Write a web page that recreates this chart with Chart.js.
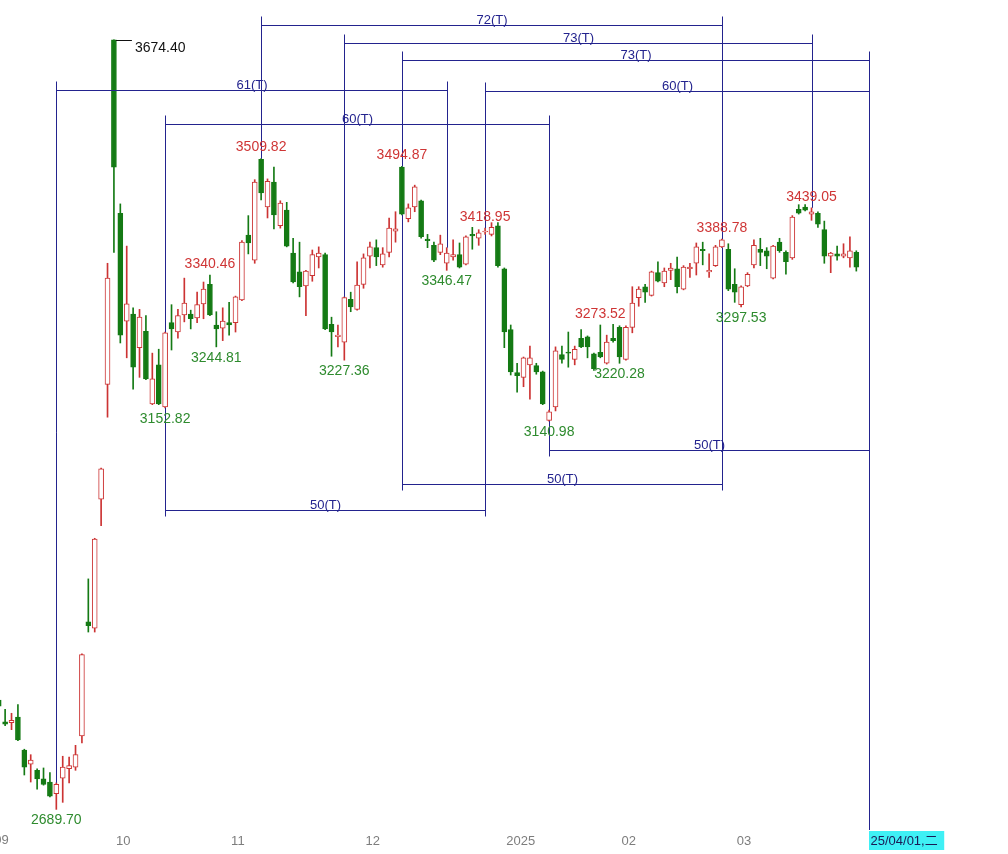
<!DOCTYPE html>
<html>
<head>
<meta charset="utf-8">
<script src="https://cdn.jsdelivr.net/npm/chart.js@4"></script>
<style>
  html, body { margin: 0; padding: 0; background: #fff; }
  #wrap { width: 1008px; height: 854px; position: relative; }
</style>
</head>
<body>
<div id="wrap"><canvas id="kline"></canvas></div>
<script>
// daily candles, one per trading day from 2024-09-03 to 2025-03-28 (index 0..134)
const opens = [2830, 2802, 2801, 2808, 2766, 2748, 2740, 2729, 2725, 2710,
  2730, 2742, 2744, 2784, 2930, 2922, 3087, 3234, 3675, 3453,
  3315, 3324, 3281, 3302, 3209, 3259, 3205, 3313, 3301, 3323,
  3324, 3319, 3337, 3362, 3310, 3306, 3313, 3313, 3342, 3425,
  3393, 3522, 3461, 3493, 3437, 3457, 3402, 3378, 3360, 3373,
  3397, 3400, 3311, 3295, 3288, 3343, 3330, 3362, 3398, 3409,
  3387, 3403, 3430, 3512, 3446, 3461, 3469, 3420, 3412, 3403,
  3389, 3397, 3400, 3388, 3426, 3421, 3429, 3426, 3437, 3382,
  3304, 3249, 3243, 3259, 3258, 3250, 3188, 3205, 3272, 3275,
  3266, 3293, 3295, 3273, 3275, 3261, 3293, 3307, 3266, 3307,
  3345, 3359, 3348, 3377, 3364, 3380, 3382, 3356, 3382, 3389,
  3407, 3378, 3386, 3410, 3407, 3362, 3336, 3360, 3387, 3407,
  3405, 3370, 3416, 3403, 3396, 3458, 3461, 3452, 3453, 3432,
  3398, 3401, 3398, 3396, 3403];
const highs = [2834, 2818, 2813, 2824, 2767, 2760, 2742, 2743, 2737, 2724,
  2758, 2757, 2772, 2889, 2985, 3037, 3127, 3389, 3675, 3465,
  3411, 3332, 3330, 3322, 3274, 3279, 3301, 3336, 3330, 3370,
  3329, 3352, 3365, 3374, 3327, 3332, 3339, 3347, 3418, 3450,
  3496, 3523, 3497, 3512, 3469, 3467, 3421, 3416, 3380, 3406,
  3410, 3402, 3320, 3310, 3346, 3352, 3391, 3401, 3416, 3419,
  3409, 3447, 3455, 3513, 3465, 3489, 3470, 3426, 3416, 3425,
  3409, 3419, 3415, 3424, 3435, 3432, 3434, 3441, 3441, 3383,
  3310, 3261, 3269, 3283, 3261, 3251, 3201, 3282, 3283, 3301,
  3283, 3304, 3296, 3274, 3310, 3297, 3311, 3309, 3309, 3359,
  3359, 3362, 3379, 3391, 3383, 3389, 3397, 3386, 3389, 3415,
  3416, 3401, 3412, 3420, 3414, 3382, 3360, 3377, 3419, 3421,
  3409, 3412, 3421, 3405, 3450, 3464, 3464, 3460, 3455, 3443,
  3403, 3411, 3414, 3423, 3405];
const lows = [2818, 2797, 2792, 2778, 2734, 2725, 2716, 2721, 2706, 2690,
  2699, 2724, 2740, 2775, 2917, 2917, 3053, 3192, 3403, 3287,
  3268, 3228, 3243, 3240, 3208, 3208, 3204, 3278, 3293, 3314,
  3305, 3313, 3318, 3322, 3282, 3290, 3297, 3301, 3341, 3401,
  3389, 3470, 3447, 3433, 3434, 3410, 3364, 3346, 3322, 3366,
  3383, 3304, 3270, 3282, 3265, 3327, 3329, 3357, 3383, 3386,
  3384, 3397, 3416, 3451, 3442, 3455, 3421, 3409, 3391, 3400,
  3380, 3393, 3383, 3387, 3407, 3412, 3426, 3424, 3384, 3281,
  3246, 3224, 3231, 3215, 3247, 3208, 3187, 3200, 3261, 3256,
  3259, 3281, 3268, 3252, 3268, 3260, 3288, 3261, 3265, 3300,
  3334, 3339, 3347, 3365, 3359, 3368, 3351, 3355, 3371, 3374,
  3387, 3371, 3385, 3409, 3354, 3339, 3333, 3359, 3383, 3386,
  3382, 3369, 3403, 3375, 3394, 3452, 3456, 3444, 3435, 3389,
  3377, 3393, 3396, 3384, 3379];
const closes = [2822, 2799, 2804, 2779, 2744, 2753, 2729, 2722, 2707, 2722,
  2744, 2746, 2760, 2888, 2925, 3036, 3126, 3370, 3512, 3297,
  3337, 3256, 3320, 3241, 3241, 3209, 3300, 3305, 3322, 3338,
  3318, 3336, 3356, 3323, 3305, 3315, 3310, 3346, 3416, 3415,
  3493, 3479, 3494, 3451, 3466, 3411, 3365, 3359, 3379, 3400,
  3402, 3305, 3301, 3297, 3345, 3333, 3361, 3396, 3410, 3397,
  3401, 3434, 3433, 3452, 3460, 3487, 3423, 3418, 3393, 3414,
  3402, 3400, 3384, 3423, 3424, 3428, 3430, 3435, 3386, 3301,
  3250, 3245, 3268, 3268, 3250, 3209, 3199, 3277, 3266, 3274,
  3279, 3282, 3282, 3254, 3269, 3288, 3290, 3269, 3307, 3338,
  3356, 3352, 3378, 3366, 3379, 3383, 3359, 3384, 3384, 3410,
  3405, 3380, 3410, 3419, 3356, 3352, 3359, 3375, 3412, 3403,
  3398, 3411, 3405, 3391, 3448, 3453, 3457, 3455, 3439, 3398,
  3402, 3398, 3401, 3405, 3384];

// month ticks (index of first trading day of each month)
const monthStart = [-1, 18, 36, 57, 79, 97, 115];
const monthLabels = ['09', '10', '11', '12', '2025', '02', '03'];

// marked highs / lows
const markIdx = [9, 18, 26, 33, 34, 41, 54, 63, 70, 76, 86, 94, 97, 113, 116, 127];
const markText = ['2689.70', '3674.40', '3152.82', '3340.46', '3244.81', '3509.82', '3227.36', '3494.87',
  '3346.47', '3418.95', '3140.98', '3273.52', '3220.28', '3388.78', '3297.53', '3439.05'];
const markKind = ['low', 'top', 'low', 'high', 'low', 'high', 'low', 'high',
  'low', 'high', 'low', 'high', 'low', 'high', 'low', 'high'];

// time cycles (trading-day counts)
const cycleFrom = [41, 54, 63, 9, 76, 26, 26, 63, 86];
const cycleTo = [113, 127, 136, 70, 136, 86, 76, 113, 136];
const cycleText = ['72(T)', '73(T)', '73(T)', '61(T)', '60(T)', '60(T)', '50(T)', '50(T)', '50(T)'];

const cursorIdx = 136;
const cursorText = '25/04/01,二';

// ---- styling ----
const UP = '#cc3333';
const DOWN = '#147a14';
const NAVY = '#23238e';
const FONT = '"Liberation Sans", Arial, "Noto Sans CJK SC", sans-serif';
const X_MIN = 0.2;
const cycleRowY = [25, 43, 60, 90, 91, 124, 510, 484, 450];

const isUp = opens.map((o, i) => closes[i] >= o);
const candleColor = isUp.map(u => (u ? UP : DOWN));
const bodyFill = isUp.map(u => (u ? '#ffffff' : DOWN));
const bodies = opens.map((o, i) => ({ x: i, y: [o, closes[i]] }));
const wicks = lows.map((l, i) => ({ x: i, y: [l, highs[i]] }));

const annotations = {
  id: 'annotations',
  afterDatasetsDraw(chart) {
    const { ctx, chartArea } = chart;
    const xs = chart.scales.x;
    const ys = chart.scales.y;
    const px = (i) => Math.round(xs.getPixelForValue(i)) + 0.5;

    ctx.save();
    ctx.lineWidth = 1;
    ctx.strokeStyle = NAVY;
    ctx.fillStyle = NAVY;
    ctx.font = '13px ' + FONT;
    ctx.textAlign = 'center';
    ctx.textBaseline = 'alphabetic';

    cycleFrom.forEach((a, i) => {
      const b = cycleTo[i];
      const row = cycleRowY[i] + 0.5;
      const xa = px(a);
      const xb = px(b);
      const below = row > 300;
      ctx.beginPath();
      ctx.moveTo(xa, row);
      ctx.lineTo(xb, row);
      [a, b].forEach(e => {
        const has = e < highs.length;
        if (!below) {
          const end = has ? ys.getPixelForValue(highs[e]) : chartArea.bottom;
          ctx.moveTo(px(e), row - 9);
          ctx.lineTo(px(e), end);
        } else {
          const start = has ? ys.getPixelForValue(lows[e]) : row;
          ctx.moveTo(px(e), start);
          ctx.lineTo(px(e), row + 6);
        }
      });
      ctx.stroke();
      ctx.fillText(cycleText[i], (xa + xb) / 2, row - 2);
    });

    // high / low labels
    ctx.font = '14px ' + FONT;
    ctx.textBaseline = 'middle';
    markIdx.forEach((k, i) => {
      const x = xs.getPixelForValue(k);
      const kind = markKind[i];
      if (kind === 'top') {
        const yTop = Math.round(ys.getPixelForValue(highs[k])) + 0.5;
        ctx.strokeStyle = '#111';
        ctx.beginPath();
        ctx.moveTo(x + 2, yTop);
        ctx.lineTo(x + 18, yTop);
        ctx.stroke();
        ctx.fillStyle = '#111';
        ctx.textAlign = 'left';
        ctx.fillText(markText[i], x + 21, yTop + 8);
      } else if (kind === 'high') {
        ctx.fillStyle = '#cf3535';
        ctx.textAlign = 'center';
        ctx.fillText(markText[i], x, ys.getPixelForValue(highs[k]) - 11);
      } else {
        ctx.fillStyle = '#2e8b2e';
        ctx.textAlign = 'center';
        ctx.fillText(markText[i], x, ys.getPixelForValue(lows[k]) + 11);
      }
    });

    // month labels that fall left of the visible range
    ctx.font = '13px ' + FONT;
    ctx.fillStyle = '#7d7d7d';
    ctx.textAlign = 'left';
    ctx.textBaseline = 'top';
    monthStart.forEach((v, i) => {
      if (v < X_MIN) ctx.fillText(monthLabels[i], xs.getPixelForValue(v) + 2, chartArea.bottom + 4);
    });

    // date cursor box
    const cx = px(cursorIdx);
    ctx.textBaseline = 'middle';
    const w = ctx.measureText(cursorText).width + 8;
    ctx.fillStyle = '#3ff0f5';
    ctx.fillRect(cx - 0.5, chartArea.bottom + 1, w, 19);
    ctx.fillStyle = '#1a1a55';
    ctx.fillText(cursorText, cx + 1, chartArea.bottom + 11);
    ctx.restore();
  }
};

const ctx = document.getElementById('kline').getContext('2d');
new Chart(ctx, {
  type: 'bar',
  data: {
    datasets: [
      {
        label: 'body',
        data: bodies,
        backgroundColor: bodyFill,
        borderColor: candleColor,
        borderWidth: 1,
        borderSkipped: false,
        barThickness: 5,
        minBarLength: 1,
        grouped: false,
        order: 0,
      },
      {
        label: 'wick',
        data: wicks,
        backgroundColor: candleColor,
        borderWidth: 0,
        barThickness: 1,
        grouped: false,
        order: 1,
      },
    ],
  },
  options: {
    responsive: true,
    maintainAspectRatio: false,
    animation: false,
    layout: { padding: 0, autoPadding: false },
    plugins: {
      legend: { display: false },
      tooltip: { enabled: false },
    },
    scales: {
      x: {
        type: 'linear',
        offset: false,
        min: X_MIN,
        max: 157.7,
        grid: { display: false, drawTicks: false },
        border: { display: false },
        ticks: {
          autoSkip: false,
          maxRotation: 0,
          align: 'start',
          labelOffset: 2,
          padding: 4,
          color: '#7d7d7d',
          font: { size: 13, family: FONT },
          callback: (v) => monthLabels[monthStart.indexOf(v)] ?? '',
        },
        afterBuildTicks(scale) {
          scale.ticks = monthStart.filter(v => v >= X_MIN).map(v => ({ value: v }));
        },
        afterFit(scale) {
          scale.height = 24;
        },
      },
      y: {
        display: false,
        min: 2663.6,
        max: 3726,
      },
    },
  },
  plugins: [annotations],
});
</script>
</body>
</html>
